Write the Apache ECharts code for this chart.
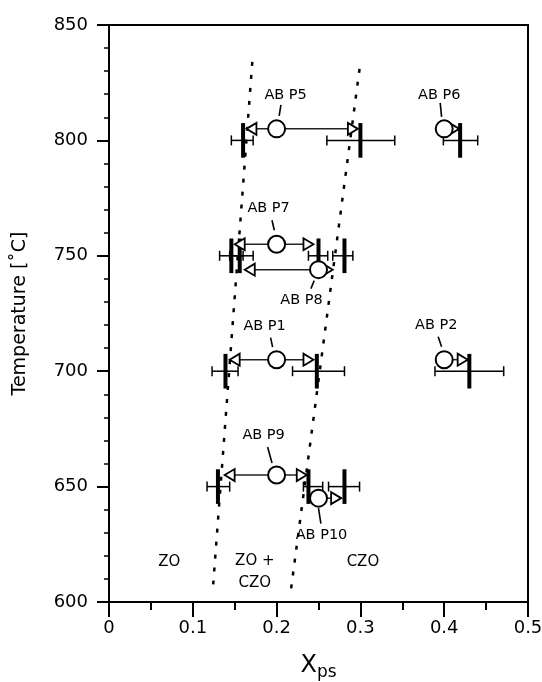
<!DOCTYPE html>
<html>
<head>
<meta charset="utf-8">
<script src="https://cdn.jsdelivr.net/npm/echarts@6/dist/echarts.min.js"></script>
<style>
  html, body { margin: 0; padding: 0; background: #fff; }
  #chart { width: 542px; height: 682px; }
</style>
</head>
<body>
<div id="chart"></div>
<script>
// experiments: starting composition (circle) and where it moved to (triangle tips)
const runNames = ['AB P5', 'AB P6', 'AB P7', 'AB P8', 'AB P1', 'AB P2', 'AB P9', 'AB P10'];
const runT = [805, 805, 755, 744, 705, 705, 655, 645];
const runX = [0.20, 0.40, 0.20, 0.25, 0.20, 0.40, 0.20, 0.25];
const arrowLeftX = [0.164, null, 0.150, 0.162, 0.144, null, 0.138, null];
const arrowRightX = [0.297, 0.418, 0.244, 0.267, 0.244, 0.428, 0.236, 0.277];

// product compositions with error range
const prodT = [800, 800, 800, 750, 750, 750, 750, 700, 700, 700, 650, 650, 650];
const prodX = [0.160, 0.300, 0.419, 0.146, 0.156, 0.250, 0.281, 0.139, 0.248, 0.430, 0.130, 0.238, 0.281];
const prodLo = [0.146, 0.260, 0.399, 0.132, 0.144, 0.238, 0.267, 0.123, 0.219, 0.389, 0.117, 0.232, 0.262];
const prodHi = [0.172, 0.341, 0.440, 0.160, 0.172, 0.261, 0.291, 0.154, 0.281, 0.471, 0.144, 0.255, 0.299];

// phase boundaries (dotted)
const leftBoundX = [0.171, 0.124];
const leftBoundT = [834, 606];
const rightBoundX = [0.299, 0.217];
const rightBoundT = [831, 605];

// field labels
const fieldNames = ['ZO', 'ZO +\nCZO', 'CZO'];
const fieldX = [0.072, 0.174, 0.303];
const fieldT = [617.5, 612.8, 617.5];

const xTicks = [0, 0.1, 0.2, 0.3, 0.4, 0.5];
const yTicks = [600, 650, 700, 750, 800, 850];

const FONT = 'DejaVu Sans';

// label placement around each circle, pixels: label dx, dy, leader from / to
const labelLayout = [
  [9, -34, 4.3, -24, 2.6, -13],
  [-5, -34, -4, -26, -2.6, -12],
  [-8, -36, -4.6, -24, -2.3, -14],
  [-17, 31, -4.3, 11, -7.6, 19],
  [-12, -33, -6, -22, -4, -12.6],
  [-8, -34, -6, -23, -2.6, -13],
  [-13, -40, -9, -28, -4.6, -12],
  [3, 37, 0, 10, 2.4, 25.6]
];

const chart = echarts.init(document.getElementById('chart'));

const option = {
  animation: false,
  backgroundColor: '#fff',
  grid: {
    left: 109, right: 14, top: 25, bottom: 80,
    outerBoundsMode: 'none',
    show: true, borderColor: '#000', borderWidth: 2
  },
  xAxis: {
    type: 'value',
    min: xTicks[0], max: xTicks[xTicks.length - 1], interval: 0.1,
    name: '{x|X}{s|ps}',
    nameLocation: 'middle',
    nameGap: 48,
    nameTextStyle: {
      rich: {
        x: { fontFamily: FONT, fontSize: 24, color: '#000' },
        s: { fontFamily: FONT, fontSize: 17, color: '#000', padding: [14, 0, 0, 0] }
      }
    },
    axisLine: { lineStyle: { color: '#000', width: 2 } },
    axisTick: { length: 15, lineStyle: { color: '#000', width: 2 } },
    minorTick: { show: true, splitNumber: 2, length: 8, lineStyle: { color: '#000', width: 2 } },
    splitLine: { show: false },
    axisLabel: { fontFamily: FONT, fontSize: 18, color: '#000', margin: 17 }
  },
  yAxis: {
    type: 'value',
    min: yTicks[0], max: yTicks[yTicks.length - 1], interval: 50,
    name: 'Temperature [˚C]',
    nameLocation: 'middle',
    nameGap: 79,
    nameTextStyle: { fontFamily: FONT, fontSize: 19, color: '#000' },
    axisLine: { lineStyle: { color: '#000', width: 2 } },
    axisTick: { length: 12, lineStyle: { color: '#000', width: 2 } },
    minorTick: { show: true, splitNumber: 5, length: 5, lineStyle: { color: '#000', width: 1.5 } },
    splitLine: { show: false },
    axisLabel: { fontFamily: FONT, fontSize: 18, color: '#000', margin: 21 }
  },
  series: [
    {
      type: 'line', z: 1, symbol: 'none',
      data: leftBoundX.map((x, i) => [x, leftBoundT[i]]),
      lineStyle: { color: '#000', width: 2.5, type: [4, 9] }
    },
    {
      type: 'line', z: 1, symbol: 'none',
      data: rightBoundX.map((x, i) => [x, rightBoundT[i]]),
      lineStyle: { color: '#000', width: 2.5, type: [4, 9] }
    },
    {
      // products: thick bar + horizontal error bar
      type: 'custom', z: 2,
      data: prodT.map((t, i) => [prodX[i], t, prodLo[i], prodHi[i]]),
      renderItem(params, api) {
        const x = api.value(0), t = api.value(1);
        const c = api.coord([x, t]);
        const lo = api.coord([api.value(2), t]);
        const hi = api.coord([api.value(3), t]);
        const top = api.coord([x, t + 7.5]);
        const bot = api.coord([x, t - 7.5]);
        const s = { stroke: '#000', lineWidth: 1.5 };
        return {
          type: 'group',
          children: [
            { type: 'line', shape: { x1: lo[0], y1: c[1], x2: hi[0], y2: c[1] }, style: s },
            { type: 'line', shape: { x1: lo[0], y1: c[1] - 5, x2: lo[0], y2: c[1] + 5 }, style: s },
            { type: 'line', shape: { x1: hi[0], y1: c[1] - 5, x2: hi[0], y2: c[1] + 5 }, style: s },
            { type: 'line', shape: { x1: c[0], y1: top[1], x2: c[0], y2: bot[1] }, style: { stroke: '#000', lineWidth: 4 } }
          ]
        };
      }
    },
    {
      // arrows from start composition to the triangles
      type: 'custom', z: 3,
      data: runX.map((x, i) => [x, runT[i]]),
      renderItem(params, api) {
        const i = params.dataIndex;
        const t = api.value(1);
        const c = api.coord([api.value(0), t]);
        const y = c[1];
        const children = [];
        const leftEnd = arrowLeftX[i] != null ? api.coord([arrowLeftX[i], t])[0] : c[0];
        const rightEnd = api.coord([arrowRightX[i], t])[0];
        children.push({ type: 'line', shape: { x1: leftEnd + 8, y1: y, x2: rightEnd - 8, y2: y }, style: { stroke: '#222', lineWidth: 1.5 } });
        const tri = { fill: '#fff', stroke: '#000', lineWidth: 1.8 };
        if (arrowLeftX[i] != null) {
          children.push({ type: 'polygon', shape: { points: [[leftEnd, y], [leftEnd + 10, y - 6], [leftEnd + 10, y + 6]] }, style: tri });
        }
        children.push({ type: 'polygon', shape: { points: [[rightEnd, y], [rightEnd - 10, y - 6], [rightEnd - 10, y + 6]] }, style: tri });
        return { type: 'group', children };
      }
    },
    {
      type: 'scatter', z: 4,
      data: runX.map((x, i) => [x, runT[i]]),
      symbol: 'circle', symbolSize: 17,
      itemStyle: { color: '#fff', borderColor: '#000', borderWidth: 2, opacity: 1 }
    },
    {
      // run names with leader lines
      type: 'custom', z: 5,
      data: runX.map((x, i) => [x, runT[i]]),
      renderItem(params, api) {
        const i = params.dataIndex;
        const c = api.coord([api.value(0), api.value(1)]);
        const L = labelLayout[i];
        return {
          type: 'group',
          children: [
            { type: 'line', shape: { x1: c[0] + L[2], y1: c[1] + L[3], x2: c[0] + L[4], y2: c[1] + L[5] }, style: { stroke: '#000', lineWidth: 1.6 } },
            { type: 'text', x: c[0] + L[0], y: c[1] + L[1],
              style: { text: runNames[i], fill: '#000', font: '14.5px "' + FONT + '"', textAlign: 'center', textVerticalAlign: 'middle' } }
          ]
        };
      }
    },
    {
      // field labels
      type: 'custom', z: 5,
      data: fieldX.map((x, i) => [x, fieldT[i]]),
      renderItem(params, api) {
        const c = api.coord([api.value(0), api.value(1)]);
        return {
          type: 'text', x: c[0], y: c[1],
          style: { text: fieldNames[params.dataIndex], fill: '#000', font: '15px "' + FONT + '"',
                   textAlign: 'center', textVerticalAlign: 'middle', lineHeight: 22 }
        };
      }
    }
  ]
};

chart.setOption(option);
window.addEventListener('resize', () => chart.resize());
</script>
</body>
</html>
